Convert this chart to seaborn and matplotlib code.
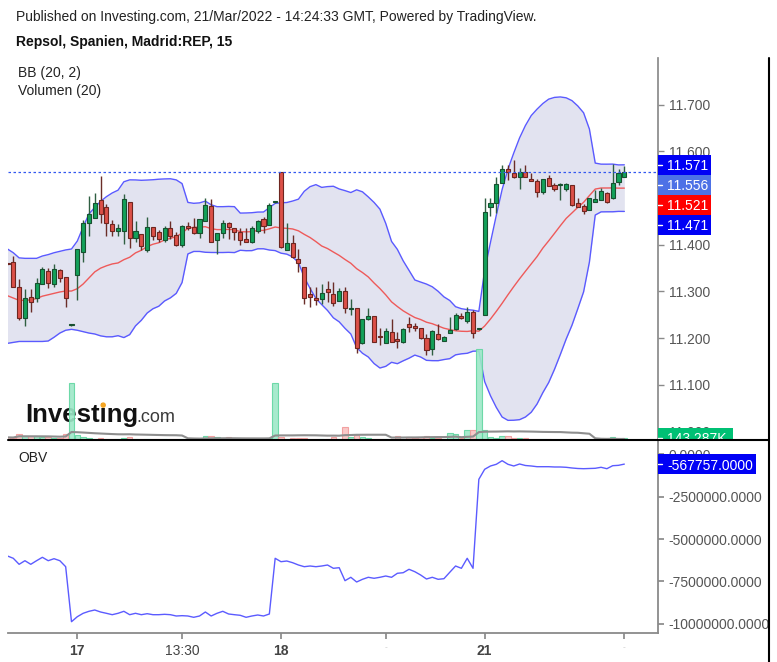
import numpy as np
import pandas as pd
import matplotlib
matplotlib.use("Agg")
import matplotlib.pyplot as plt
import matplotlib.transforms as mtransforms
from matplotlib.patches import Rectangle, Ellipse
from matplotlib.lines import Line2D
import seaborn as sns

# ---- data: Repsol 15 min candles (16 Mar 14:45 -> 21 Mar 15:00) ----
opens = [11.360, 11.364, 11.309, 11.243, 11.288, 11.286, 11.317, 11.343, 11.317, 11.345,
         11.331, 11.228, 11.336, 11.384, 11.446, 11.458, 11.495, 11.480, 11.444, 11.430,
         11.430, 11.491, 11.414, 11.423, 11.389, 11.439, 11.428, 11.410, 11.436, 11.420,
         11.400, 11.441, 11.438, 11.426, 11.451, 11.484, 11.410, 11.426, 11.446, 11.436,
         11.428, 11.412, 11.406, 11.430, 11.455, 11.443, 11.491, 11.555, 11.389, 11.403,
         11.369, 11.352, 11.295, 11.287, 11.285, 11.305, 11.294, 11.280, 11.302, 11.262,
         11.264, 11.189, 11.241, 11.248, 11.203, 11.189, 11.213, 11.198, 11.191, 11.230,
         11.226, 11.221, 11.200, 11.176, 11.209, 11.195, 11.211, 11.219, 11.248, 11.236,
         11.257, 11.219, 11.250, 11.481, 11.489, 11.532, 11.562, 11.553, 11.545, 11.555,
         11.540, 11.537, 11.514, 11.542, 11.527, 11.527, 11.519, 11.527, 11.489, 11.483,
         11.475, 11.491, 11.496, 11.510, 11.500, 11.535, 11.545]
highs = [11.362, 11.375, 11.327, 11.306, 11.306, 11.328, 11.352, 11.351, 11.359, 11.348,
         11.331, 11.229, 11.391, 11.453, 11.505, 11.510, 11.548, 11.487, 11.453, 11.444,
         11.508, 11.491, 11.451, 11.423, 11.459, 11.439, 11.432, 11.440, 11.451, 11.428,
         11.443, 11.448, 11.457, 11.455, 11.500, 11.498, 11.425, 11.453, 11.448, 11.436,
         11.436, 11.437, 11.441, 11.453, 11.459, 11.489, 11.492, 11.556, 11.446, 11.420,
         11.391, 11.352, 11.310, 11.310, 11.316, 11.323, 11.321, 11.307, 11.310, 11.283,
         11.264, 11.241, 11.264, 11.248, 11.221, 11.221, 11.241, 11.214, 11.221, 11.245,
         11.232, 11.221, 11.209, 11.218, 11.230, 11.205, 11.246, 11.253, 11.253, 11.266,
         11.261, 11.220, 11.500, 11.500, 11.546, 11.571, 11.571, 11.582, 11.564, 11.571,
         11.553, 11.540, 11.540, 11.550, 11.532, 11.533, 11.533, 11.527, 11.500, 11.487,
         11.500, 11.518, 11.521, 11.514, 11.573, 11.562, 11.569]
lows = [11.356, 11.310, 11.239, 11.227, 11.257, 11.277, 11.316, 11.307, 11.310, 11.320,
        11.266, 11.227, 11.281, 11.363, 11.418, 11.458, 11.446, 11.418, 11.418, 11.418,
        11.402, 11.394, 11.405, 11.389, 11.384, 11.410, 11.406, 11.405, 11.413, 11.398,
        11.396, 11.432, 11.423, 11.414, 11.450, 11.406, 11.380, 11.415, 11.413, 11.410,
        11.400, 11.407, 11.403, 11.425, 11.425, 11.443, 11.490, 11.394, 11.389, 11.371,
        11.341, 11.273, 11.266, 11.271, 11.273, 11.278, 11.269, 11.280, 11.254, 11.250,
        11.169, 11.188, 11.239, 11.191, 11.186, 11.189, 11.191, 11.179, 11.189, 11.214,
        11.216, 11.198, 11.164, 11.164, 11.196, 11.193, 11.211, 11.218, 11.241, 11.232,
        11.201, 11.218, 11.250, 11.462, 11.468, 11.532, 11.539, 11.543, 11.519, 11.545,
        11.537, 11.503, 11.509, 11.525, 11.516, 11.496, 11.516, 11.484, 11.482, 11.467,
        11.475, 11.491, 11.495, 11.490, 11.498, 11.528, 11.545]
closes = [11.358, 11.310, 11.244, 11.286, 11.278, 11.319, 11.348, 11.318, 11.348, 11.328,
          11.287, 11.228, 11.391, 11.446, 11.465, 11.490, 11.466, 11.446, 11.430, 11.437,
          11.498, 11.414, 11.430, 11.398, 11.438, 11.418, 11.413, 11.437, 11.418, 11.400,
          11.440, 11.437, 11.425, 11.455, 11.485, 11.407, 11.425, 11.446, 11.439, 11.427,
          11.410, 11.407, 11.437, 11.451, 11.440, 11.485, 11.491, 11.395, 11.403, 11.373,
          11.360, 11.286, 11.289, 11.281, 11.296, 11.298, 11.276, 11.302, 11.264, 11.265,
          11.179, 11.241, 11.248, 11.191, 11.202, 11.216, 11.191, 11.195, 11.219, 11.225,
          11.221, 11.200, 11.175, 11.216, 11.199, 11.203, 11.218, 11.250, 11.243, 11.257,
          11.211, 11.219, 11.471, 11.490, 11.530, 11.562, 11.555, 11.545, 11.555, 11.545,
          11.537, 11.514, 11.540, 11.525, 11.520, 11.529, 11.530, 11.486, 11.482, 11.473,
          11.500, 11.498, 11.516, 11.491, 11.532, 11.553, 11.556]
volumes_k = [150, 140, 350, 210, 210, 210, 200, 200, 120, 120,
             350, 3250, 300, 200, 120, 80, 120, 80, 80, 80,
             120, 200, 80, 80, 60, 60, 50, 50, 40, 80,
             40, 40, 80, 80, 240, 240, 160, 120, 160, 40,
             40, 120, 80, 60, 60, 120, 3290, 200, 40, 100,
             140, 100, 40, 40, 40, 60, 200, 40, 770, 200,
             280, 160, 120, 60, 60, 80, 80, 240, 40, 200,
             140, 200, 240, 100, 120, 40, 380, 370, 140, 590,
             590, 5260, 590, 200, 100, 210, 210, 100, 120, 90,
             30, 40, 40, 30, 20, 20, 20, 40, 30, 20,
             20, 20, 60, 80, 180, 60, 143.287]
obv_m = [-5.995, -6.131, -6.486, -6.273, -6.486, -6.273, -6.072, -6.273, -6.155, -6.273,
         -6.627, -9.876, -9.581, -9.380, -9.262, -9.185, -9.303, -9.380, -9.462, -9.380,
         -9.262, -9.462, -9.380, -9.462, -9.403, -9.462, -9.462, -9.440, -9.462, -9.539,
         -9.520, -9.539, -9.616, -9.539, -9.303, -9.539, -9.380, -9.262, -9.421, -9.462,
         -9.498, -9.616, -9.539, -9.480, -9.539, -9.421, -6.131, -6.332, -6.291, -6.391,
         -6.527, -6.627, -6.586, -6.627, -6.586, -6.527, -6.722, -6.686, -7.454, -7.253,
         -7.531, -7.372, -7.253, -7.312, -7.253, -7.177, -7.253, -7.017, -6.982, -6.781,
         -6.923, -7.118, -7.354, -7.253, -7.372, -7.336, -6.958, -6.586, -6.722, -6.131,
         -6.722, -1.465, -0.874, -0.679, -0.579, -0.366, -0.579, -0.679, -0.561, -0.650,
         -0.679, -0.721, -0.721, -0.721, -0.738, -0.738, -0.756, -0.797, -0.827, -0.839,
         -0.827, -0.815, -0.756, -0.839, -0.662, -0.640, -0.567757]
# BB(20, 2) for the first 19 bars (its window starts before the visible range)
bb_upper_head = [11.391, 11.383, 11.372, 11.371, 11.371, 11.371, 11.376, 11.379, 11.383, 11.386,
                 11.389, 11.391, 11.408, 11.438, 11.466, 11.480, 11.493, 11.503, 11.511]
bb_mid_head = [11.291, 11.286, 11.281, 11.281, 11.282, 11.285, 11.290, 11.293, 11.296, 11.299,
               11.301, 11.301, 11.306, 11.316, 11.329, 11.342, 11.350, 11.355, 11.359]
bb_lower_head = [11.189, 11.191, 11.193, 11.193, 11.193, 11.193, 11.193, 11.194, 11.202, 11.211,
                 11.217, 11.219, 11.217, 11.214, 11.211, 11.209, 11.205, 11.203, 11.203]

price_ticks = [11.0, 11.1, 11.2, 11.3, 11.4, 11.5, 11.6, 11.7]
obv_ticks = [0, -2500000, -5000000, -7500000, -10000000]
x_ticks = [12, 30, 47, 65, 82, 106]
x_labels = ["17", "13:30", "18", "-", "21", "-"]
bold_labels = {"17", "18", "21"}

# ---- derived series ----
df = pd.DataFrame({"o": opens, "h": highs, "l": lows, "c": closes,
                   "v": np.array(volumes_k) * 1000, "obv": np.array(obv_m) * 1e6})
df["i"] = np.arange(len(df))
up = df.c >= df.o
mid = df.c.rolling(20).mean()
sd = df.c.rolling(20).std(ddof=0)
upper, lower = mid + 2 * sd, mid - 2 * sd
n0 = len(bb_mid_head)
mid.iloc[:n0], upper.iloc[:n0], lower.iloc[:n0] = bb_mid_head, bb_upper_head, bb_lower_head
vol_ma = df.v.rolling(20, min_periods=1).mean()

sns.set_theme(style="white")
plt.rcParams["font.family"] = ["Liberation Sans", "DejaVu Sans"]

W, H = 777, 662
fig = plt.figure(figsize=(W / 100, H / 100), dpi=100)
def fx(x): return x / W
def fy(y): return 1 - y / H

LEFT, RIGHT = 8, 657.5
P_TOP, P_BOT, O_TOP, O_BOT = 58, 440, 441, 633.3
ax = fig.add_axes([fx(LEFT), fy(P_BOT), (RIGHT - LEFT) / W, (P_BOT - P_TOP) / H])
axo = fig.add_axes([fx(LEFT), fy(O_BOT), (RIGHT - LEFT) / W, (O_BOT - O_TOP) / H], sharex=ax)
ax.set_xlim(0.09, 111.7)
ax.set_ylim(10.982, 11.800)
axo.set_ylim(-10.561e6, 0.797e6)

# ---- price panel ----
ax.fill_between(df.i, lower, upper, color="#e2e3f0", lw=0, zorder=0)
sns.lineplot(x=df.i, y=upper, ax=ax, color="#5a5aff", lw=1, zorder=1)
sns.lineplot(x=df.i, y=lower, ax=ax, color="#5a5aff", lw=1, zorder=1)
sns.lineplot(x=df.i, y=mid, ax=ax, color="#ee5a5a", lw=1, zorder=1)

wick_col = np.where(up, "#2f5f42", "#6a2d28")
ax.vlines(df.i, df.l, df.h, colors=wick_col, lw=1, zorder=2)
body = np.maximum((df.c - df.o).abs(), 0.003)
ax.bar(df.i, body, bottom=np.minimum(df.o, df.c), width=0.7,
       color=np.where(up, "#13a15a", "#dc5048"),
       edgecolor=np.where(up, "#18502f", "#6e2620"), lw=0.8, zorder=3)
ax.axhline(df.c.iloc[-1], color="#3358f0", lw=0.9, ls=(0, (2, 2)), zorder=4)

# investing.com watermark
logo = ax.text(fx(25), fy(421.7), "Investing", transform=fig.transFigure, fontsize=18.5,
               fontweight="bold", color="#111", va="baseline", zorder=0.5)
ax.text(fx(136), fy(421.7), ".com", transform=fig.transFigure, fontsize=13,
        color="#3a3a3a", va="baseline", zorder=0.5)
rend = fig.canvas.get_renderer()
pre = fig.text(0, 0, "Invest", fontsize=18.5, fontweight="bold")
ii = fig.text(0, 0, "i", fontsize=18.5, fontweight="bold")
x_dot = 25 + pre.get_window_extent(rend).width + ii.get_window_extent(rend).width / 2
pre.remove()
ii.remove()
fig.patches.append(Ellipse((fx(x_dot), fy(421.7 - 0.645 * 18.5 * 100 / 72)), 5.5 / W, 5.5 / H,
                           transform=fig.transFigure, facecolor="#f5a623", edgecolor="none",
                           zorder=5))

# volume on its own scale at the foot of the price panel
axv = ax.twinx()
axv.set_ylim(0, 21.97e6)
axv.bar(df.i, df.v, width=0.95, color=np.where(up, "#9ee8c8", "#f9c2c2"),
        edgecolor=np.where(up, "#62d6a2", "#f19a9a"), lw=0.8, alpha=0.9)
sns.lineplot(x=df.i, y=vol_ma, ax=axv, color="#8e8e8e", lw=1.5)
axv.set_yticks([])
axv.set_ylabel("")

for a in (ax, axv):
    for s in ("left", "top", "bottom"):
        a.spines[s].set_visible(False)
ax.spines["right"].set_visible(True)
ax.spines["right"].set_color("#8a8a8a")
axv.spines["right"].set_visible(False)
ax.yaxis.tick_right()
ax.set_yticks(price_ticks, [f"{t:.3f}" for t in price_ticks])
ax.tick_params(axis="y", right=True, length=4, width=1, color="#8a8a8a",
               labelcolor="#555", labelsize=10, pad=4)
ax.tick_params(axis="x", bottom=False, labelbottom=False)
ax.set_ylabel("")
ax.set_xlabel("")

# ---- OBV panel ----
sns.lineplot(x=df.i, y=df.obv, ax=axo, color="#5b5bff", lw=1)
for s in ("left", "top"):
    axo.spines[s].set_visible(False)
for s in ("right", "bottom"):
    axo.spines[s].set_color("#8a8a8a")
    axo.spines[s].set_linewidth(1.3)
axo.yaxis.tick_right()
axo.set_yticks(obv_ticks, [f"{t:.4f}" for t in obv_ticks])
axo.tick_params(axis="y", right=True, length=4, color="#8a8a8a", labelcolor="#555",
                labelsize=10, pad=4)
axo.set_xticks(x_ticks, x_labels)
axo.tick_params(axis="x", bottom=True, length=4, color="#8a8a8a", labelcolor="#444",
                labelsize=10, pad=4)
for lab in axo.get_xticklabels():
    if lab.get_text() in bold_labels:
        lab.set_fontweight("bold")
    elif lab.get_text() == "-":
        lab.set_color("#c8c8c8")
        lab.set_fontsize(6)
axo.set_ylabel("")
axo.set_xlabel("")

# ---- value tags on the scales ----
STRIP = 768 - RIGHT
def strip_axes(top, bot, ylim):
    s = fig.add_axes([fx(RIGHT), fy(bot), STRIP / W, (bot - top) / H])
    s.set_ylim(*ylim)
    s.set_xlim(0, 1)
    s.axis("off")
    return s

def tag(s, y, h, w, text, color):
    tr = mtransforms.blended_transform_factory(s.transAxes, s.transData)
    s.add_patch(Rectangle((0, y - h / 2), w / STRIP, h, transform=tr, facecolor=color,
                          edgecolor="none", clip_on=True))
    s.plot([0, 4 / STRIP], [y, y], transform=tr, color="white", lw=1, clip_on=True)
    s.text(9.5 / STRIP, y, text, transform=tr, color="white", fontsize=10,
           va="center_baseline", ha="left", clip_on=True)

ps = strip_axes(P_TOP, P_BOT, ax.get_ylim())
h_p = 20 / 467
tags = [(upper.iloc[-1], "#0000f5"), (df.c.iloc[-1], "#4d71e6"),
        (mid.iloc[-1], "#ff0000"), (lower.iloc[-1], "#0000f5")]
prev = None
for val, col in tags:
    y = val if prev is None else min(val, prev - h_p)
    tag(ps, y, h_p, 53.5, f"{val:.3f}", col)
    prev = y

vs = strip_axes(P_TOP, P_BOT, axv.get_ylim())
tag(vs, df.v.iloc[-1], 20 * 57.5e3, 75, f"{df.v.iloc[-1] / 1000:.3f}K", "#00c074")

os_ = strip_axes(O_TOP, O_BOT, axo.get_ylim())
tag(os_, df.obv.iloc[-1], 19.5 / 16.93 * 1e6, 98, f"{df.obv.iloc[-1]:.4f}", "#0000f5")

# ---- frame lines and header text ----
fig.patches.append(Rectangle((fx(770), 0), 1 - fx(770), 1, transform=fig.transFigure,
                             facecolor="white", edgecolor="none", zorder=10))
fig.add_artist(Line2D([fx(LEFT), fx(769)], [fy(440), fy(440)], color="black", lw=1.5, zorder=11))
fig.add_artist(Line2D([fx(769), fx(769)], [fy(58), 0], color="black", lw=1.5, zorder=11))

fig.text(fx(16), fy(17), "Published on Investing.com, 21/Mar/2022 - 14:24:33 GMT, Powered by TradingView.",
         fontsize=10, color="#222", va="center")
fig.text(fx(16), fy(42), "Repsol, Spanien, Madrid:REP, 15", fontsize=10, fontweight="bold",
         color="#111", va="center")
fig.text(fx(18), fy(73), "BB (20, 2)", fontsize=10, color="#222", va="center")
fig.text(fx(18), fy(91), "Volumen (20)", fontsize=10, color="#222", va="center")
fig.text(fx(18), fy(458), "OBV", fontsize=10, color="#222", va="center")

fig.savefig("out.png", dpi=100, facecolor="white")
